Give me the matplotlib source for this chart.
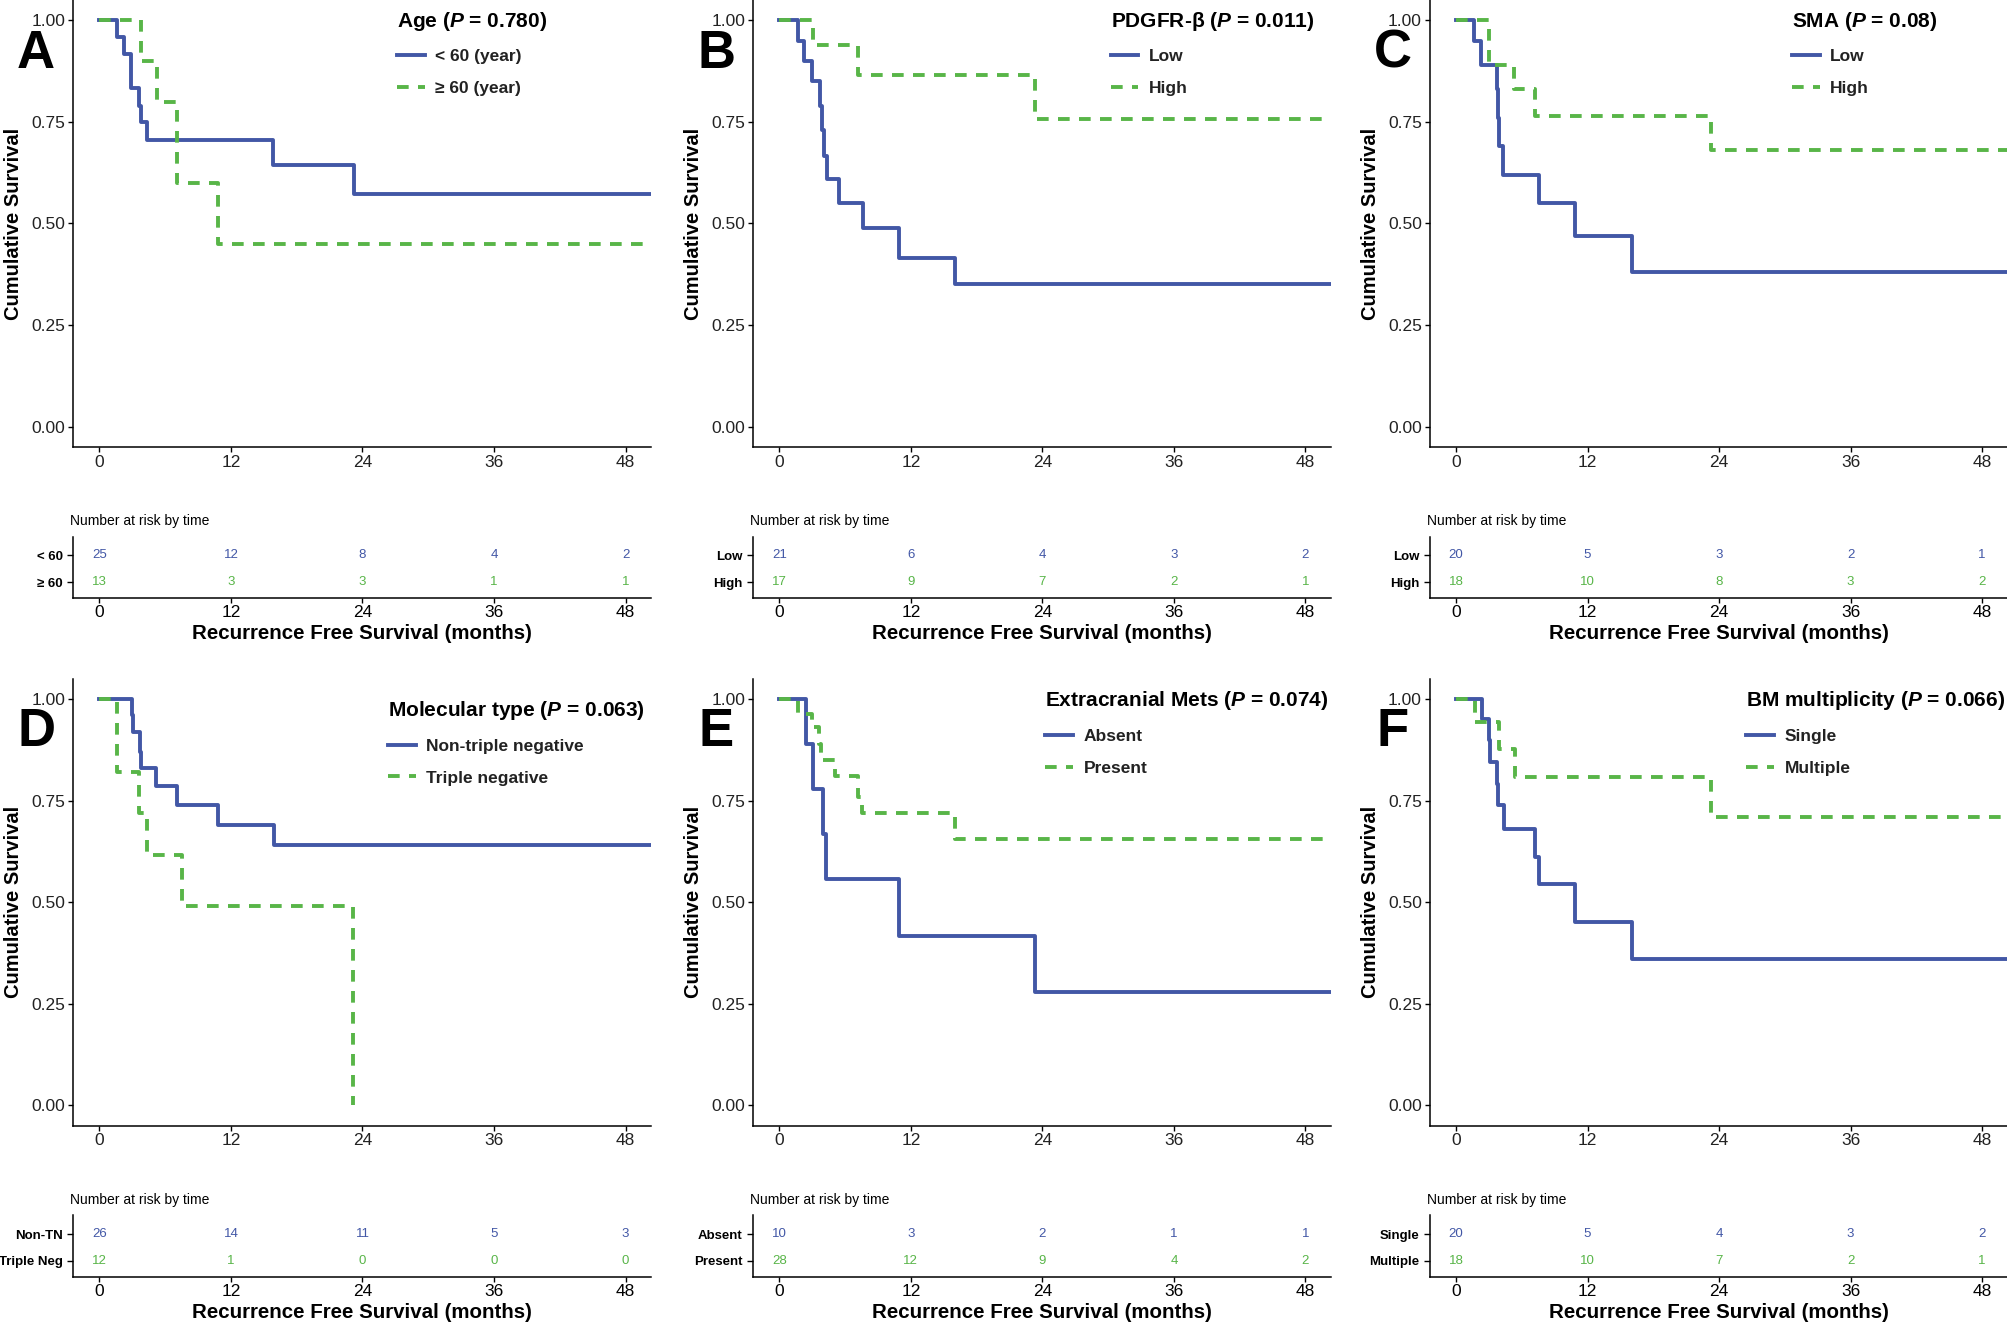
import matplotlib
matplotlib.use('Agg')
import matplotlib.pyplot as plt
from matplotlib.lines import Line2D

plt.rcParams['font.family'] = ['Liberation Sans', 'DejaVu Sans']
plt.rcParams['mathtext.fontset'] = 'custom'
plt.rcParams['mathtext.rm'] = 'Liberation Sans'
plt.rcParams['mathtext.it'] = 'Liberation Sans:italic'
plt.rcParams['mathtext.bf'] = 'Liberation Sans:bold'
plt.rcParams['mathtext.bfit'] = 'Liberation Sans:italic:bold'

BLUE = '#4257a6'
GREEN = '#58b548'

# ---------------- data ----------------
risk_times = [0, 12, 24, 36, 48]

# A - Age
A_blue_t = [0, 1.56, 2.26, 2.9, 3.6, 3.8, 4.3, 15.8, 23.2, 50.3]
A_blue_s = [1, 0.958, 0.917, 0.833, 0.79, 0.75, 0.705, 0.643, 0.573, 0.573]
A_green_t = [0, 3.8, 5.3, 7.1, 10.8, 50.3]
A_green_s = [1, 0.90, 0.80, 0.60, 0.45, 0.45]
A_risk_blue = [25, 12, 8, 4, 2]
A_risk_green = [13, 3, 3, 1, 1]

# B - PDGFR-beta
B_blue_t = [0, 1.75, 2.26, 3.0, 3.75, 3.9, 4.05, 4.36, 5.4, 7.6, 10.9, 16.0, 50.3]
B_blue_s = [1, 0.95, 0.90, 0.85, 0.79, 0.73, 0.667, 0.61, 0.55, 0.49, 0.415, 0.35, 0.35]
B_green_t = [0, 3.1, 7.2, 23.3, 50.3]
B_green_s = [1, 0.94, 0.865, 0.757, 0.757]
B_risk_blue = [21, 6, 4, 3, 2]
B_risk_green = [17, 9, 7, 2, 1]

# C - SMA
C_blue_t = [0, 1.67, 2.3, 3.7, 3.8, 3.9, 4.3, 7.6, 10.9, 16.1, 50.3]
C_blue_s = [1, 0.948, 0.89, 0.83, 0.76, 0.69, 0.62, 0.55, 0.47, 0.38, 0.38]
C_green_t = [0, 3.0, 5.3, 7.2, 23.3, 50.3]
C_green_s = [1, 0.89, 0.83, 0.765, 0.68, 0.68]
C_risk_blue = [20, 5, 3, 2, 1]
C_risk_green = [18, 10, 8, 3, 2]

# D - Molecular type
D_blue_t = [0, 2.95, 3.1, 3.7, 3.8, 5.2, 7.1, 10.8, 15.9, 50.3]
D_blue_s = [1, 0.96, 0.92, 0.87, 0.83, 0.785, 0.74, 0.69, 0.64, 0.64]
D_green_t = [0, 1.56, 3.6, 4.3, 7.5, 23.1]
D_green_s = [1, 0.82, 0.72, 0.615, 0.49, 0.0]
D_risk_blue = [26, 14, 11, 5, 3]
D_risk_green = [12, 1, 0, 0, 0]

# E - Extracranial mets
E_blue_t = [0, 2.4, 3.1, 4.0, 4.3, 10.9, 23.3, 50.3]
E_blue_s = [1, 0.889, 0.778, 0.667, 0.556, 0.417, 0.278, 0.278]
E_green_t = [0, 1.75, 3.0, 3.6, 3.8, 5.1, 7.2, 7.5, 16.0, 50.3]
E_green_s = [1, 0.964, 0.93, 0.89, 0.85, 0.81, 0.76, 0.72, 0.655, 0.655]
E_risk_blue = [10, 3, 2, 1, 1]
E_risk_green = [28, 12, 9, 4, 2]

# F - BM multiplicity
F_blue_t = [0, 2.33, 3.0, 3.1, 3.7, 3.8, 4.36, 7.2, 7.6, 10.9, 16.1, 50.3]
F_blue_s = [1, 0.95, 0.90, 0.845, 0.79, 0.74, 0.68, 0.61, 0.545, 0.45, 0.36, 0.36]
F_green_t = [0, 1.75, 3.9, 5.4, 23.3, 50.3]
F_green_s = [1, 0.943, 0.877, 0.808, 0.71, 0.71]
F_risk_blue = [20, 5, 4, 3, 2]
F_risk_green = [18, 10, 7, 2, 1]

panels = [
    ('A', 'Age ($\\bfit{P}$ = 0.780)', ['< 60 (year)', '\u2265 60 (year)'], ['< 60', '\u2265 60'],
     A_blue_t, A_blue_s, A_green_t, A_green_s, A_risk_blue, A_risk_green, (0.561, 0.978)),
    ('B', 'PDGFR-\u03b2 ($\\bfit{P}$ = 0.011)', ['Low', 'High'], ['Low', 'High'],
     B_blue_t, B_blue_s, B_green_t, B_green_s, B_risk_blue, B_risk_green, (0.619, 0.978)),
    ('C', 'SMA ($\\bfit{P}$ = 0.08)', ['Low', 'High'], ['Low', 'High'],
     C_blue_t, C_blue_s, C_green_t, C_green_s, C_risk_blue, C_risk_green, (0.627, 0.978)),
    ('D', 'Molecular type ($\\bfit{P}$ = 0.063)', ['Non-triple negative', 'Triple negative'], ['Non-TN', 'Triple Neg'],
     D_blue_t, D_blue_s, D_green_t, D_green_s, D_risk_blue, D_risk_green, (0.545, 0.954)),
    ('E', 'Extracranial Mets ($\\bfit{P}$ = 0.074)', ['Absent', 'Present'], ['Absent', 'Present'],
     E_blue_t, E_blue_s, E_green_t, E_green_s, E_risk_blue, E_risk_green, (0.506, 0.976)),
    ('F', 'BM multiplicity ($\\bfit{P}$ = 0.066)', ['Single', 'Multiple'], ['Single', 'Multiple'],
     F_blue_t, F_blue_s, F_green_t, F_green_s, F_risk_blue, F_risk_green, (0.548, 0.976)),
]

# ---------------- layout (figure fractions) ----------------
col_left = [0.0364, 0.375, 0.712]
col_w = 0.2877
main_bottom = [0.6624, 0.1498]
main_h = 0.3376
tab_bottom = [0.5483, 0.0356]
tab_h = 0.0464
DASH = (0, (3, 2.4))

fig = plt.figure(figsize=(20.08, 13.24), dpi=100)

for k, (letter, title, labels, short, bt, bs, gt, gs, rb, rg, legpos) in enumerate(panels):
    row, col = divmod(k, 3)

    # ******************** SURVIVAL CURVES ********************
    ax = fig.add_axes([col_left[col], main_bottom[row], col_w, main_h])
    ax.step(bt, bs, where='post', color=BLUE, lw=2.8, label=labels[0])
    ax.step(gt, gs, where='post', color=GREEN, lw=2.8, linestyle=DASH, label=labels[1])
    ax.set_xlim(-2.4, 50.3)
    ax.set_ylim(-0.05, 1.05)
    ax.set_xticks(risk_times)
    ax.set_yticks([0, 0.25, 0.5, 0.75, 1.0])
    ax.set_yticklabels(['0.00', '0.25', '0.50', '0.75', '1.00'])
    for s in ['top', 'right']:
        ax.spines[s].set_visible(False)
    for s in ['left', 'bottom']:
        ax.spines[s].set_linewidth(1.1)
    ax.tick_params(labelsize=12.5, length=3.6, width=1.0, pad=2, labelcolor='#222222')
    ax.set_ylabel('Cumulative Survival', fontsize=14.5, fontweight='bold')
    ax.yaxis.set_label_coords(-0.086, 0.5)

    handles = [Line2D([], [], color=BLUE, lw=2.8),
               Line2D([], [], color=GREEN, lw=2.8, linestyle=DASH)]
    leg = ax.legend(handles, labels, title=title, loc='upper left', bbox_to_anchor=legpos,
                    frameon=False, fontsize=12.5, borderpad=0, borderaxespad=0,
                    handlelength=1.6, handletextpad=0.6, labelspacing=0.95,
                    title_fontproperties={'size': 15, 'weight': 'bold'}, alignment='left')
    for txt in leg.get_texts():
        txt.set_fontweight('bold')
        txt.set_color('#222222')

    ax.text(-0.064, 0.88, letter, transform=ax.transAxes, ha='center', va='center',
            fontsize=38, fontweight='bold')

    # ******************** RISK TABLE ********************
    tx = fig.add_axes([col_left[col], tab_bottom[row], col_w, tab_h])
    tx.set_xlim(-2.4, 50.3)
    tx.set_ylim(0.4, 2.7)
    for t, n1, n2 in zip(risk_times, rb, rg):
        tx.text(t, 2, str(n1), color=BLUE, ha='center', va='center', fontsize=9.5)
        tx.text(t, 1, str(n2), color=GREEN, ha='center', va='center', fontsize=9.5)
    tx.set_yticks([2, 1])
    tx.set_yticklabels(short, fontsize=9.5, fontweight='bold')
    tx.set_xticks(risk_times)
    for s in ['top', 'right']:
        tx.spines[s].set_visible(False)
    for s in ['left', 'bottom']:
        tx.spines[s].set_linewidth(1.1)
    tx.tick_params(axis='x', labelsize=12.5, length=3.6, width=1.0, pad=1.5)
    tx.tick_params(axis='y', length=4.5, width=1.0, pad=3)
    tx.set_xlabel('Recurrence Free Survival (months)', fontsize=14.8, fontweight='bold', labelpad=3)
    tx.annotate('Number at risk by time', xy=(0, 1), xycoords='axes fraction',
                xytext=(-2, 6), textcoords='offset points', ha='left', va='bottom', fontsize=10)

fig.savefig('out.png', dpi=100)
